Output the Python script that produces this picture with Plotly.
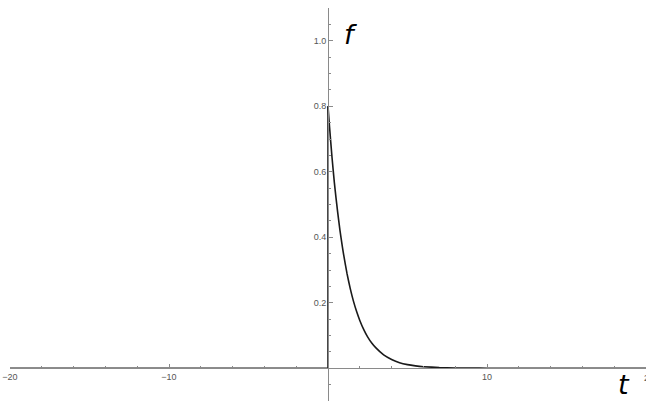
import plotly.graph_objects as go

# Sampled response f(t): zero before t = 0, then a decaying pulse starting at 0.8
t_flat = [-20, 0, 0]
f_flat = [0, 0, 0.8]

t_decay = [0, 0.1, 0.25, 0.4, 0.5, 0.6, 0.75, 0.9, 1.0, 1.2, 1.4, 1.6,
           1.8, 2.0, 2.25, 2.5, 2.75, 3.0, 3.5, 4.0, 4.5, 5.0, 5.5, 6.0, 7.0, 8.0,
           9.0, 10.0, 12.0, 15.0, 20.0]
f_decay = [0.8, 0.735, 0.645, 0.567, 0.522, 0.48, 0.422, 0.372, 0.342,
           0.288, 0.243, 0.205, 0.173, 0.146, 0.118, 0.095, 0.077, 0.063, 0.041,
           0.027, 0.017, 0.011, 0.0073, 0.0048, 0.0021, 0.0009, 0.0004, 0.0002,
           0.0001, 0.0, 0.0]

x_ticks = [-20, -10, 10, 20]
x_tick_text = ["\u221220", "\u221210", "10", "20"]
y_ticks = [0.2, 0.4, 0.6, 0.8, 1.0]
y_tick_text = ["0.2", "0.4", "0.6", "0.8", "1.0"]

x_range = [-20, 20]
y_range = [-0.1, 1.1]

axis_grey = "#8a8a8a"
tick_font = dict(family="Liberation Sans, Arial, sans-serif", size=9, color="#555555")
curve = dict(color="#1a1a1a", width=1.6)

fig = go.Figure()
fig.add_trace(go.Scatter(
    x=t_flat, y=f_flat, mode="lines", line=dict(**curve, shape="linear"),
    hoverinfo="skip", showlegend=False,
))
fig.add_trace(go.Scatter(
    x=t_decay, y=f_decay, mode="lines",
    line=dict(**curve, shape="spline", smoothing=0.5),
    hoverinfo="skip", showlegend=False,
))

# Position of the crossing axes as fractions of the plotting area
x_axis_pos = (0 - y_range[0]) / (y_range[1] - y_range[0])
y_axis_pos = (0 - x_range[0]) / (x_range[1] - x_range[0])

fig.update_layout(
    width=646, height=401,
    margin=dict(l=10, r=0, t=8, b=0),
    paper_bgcolor="white", plot_bgcolor="white",
    xaxis=dict(
        range=x_range, anchor="free", position=x_axis_pos,
        showgrid=False, zeroline=False,
        showline=True, linecolor=axis_grey, linewidth=1,
        tickmode="array", tickvals=x_ticks, ticktext=x_tick_text,
        ticks="inside", ticklen=4, tickcolor=axis_grey, tickwidth=1,
        minor=dict(dtick=2, tick0=0, ticks="inside", ticklen=2,
                   tickcolor=axis_grey, tickwidth=1, showgrid=False),
        tickfont=tick_font,
    ),
    yaxis=dict(
        range=y_range, anchor="free", position=y_axis_pos,
        showgrid=False, zeroline=False,
        showline=True, linecolor=axis_grey, linewidth=1,
        tickmode="array", tickvals=y_ticks, ticktext=y_tick_text,
        ticks="inside", ticklen=4, tickcolor=axis_grey, tickwidth=1,
        minor=dict(dtick=0.05, tick0=0, ticks="inside", ticklen=2,
                   tickcolor=axis_grey, tickwidth=1, showgrid=False),
        tickfont=tick_font,
    ),
    annotations=[
        # tick label at the right end of the t axis, partly past the page edge
        dict(x=1.0, y=x_axis_pos, xref="paper", yref="paper", text=x_tick_text[-1],
             showarrow=False, font=tick_font, xanchor="center", yanchor="top",
             xshift=3, yshift=-3),
        dict(x=1.4, y=1.02, xref="x", yref="y", text="<i>f</i>", showarrow=False,
             font=dict(family="DejaVu Sans, sans-serif", size=27, color="black"),
             xanchor="center", yanchor="middle"),
        dict(x=18.6, y=-0.05, xref="x", yref="y", text="<i>t</i>", showarrow=False,
             font=dict(family="DejaVu Sans, sans-serif", size=27, color="black"),
             xanchor="center", yanchor="middle"),
    ],
)

fig.write_html("out.html")
